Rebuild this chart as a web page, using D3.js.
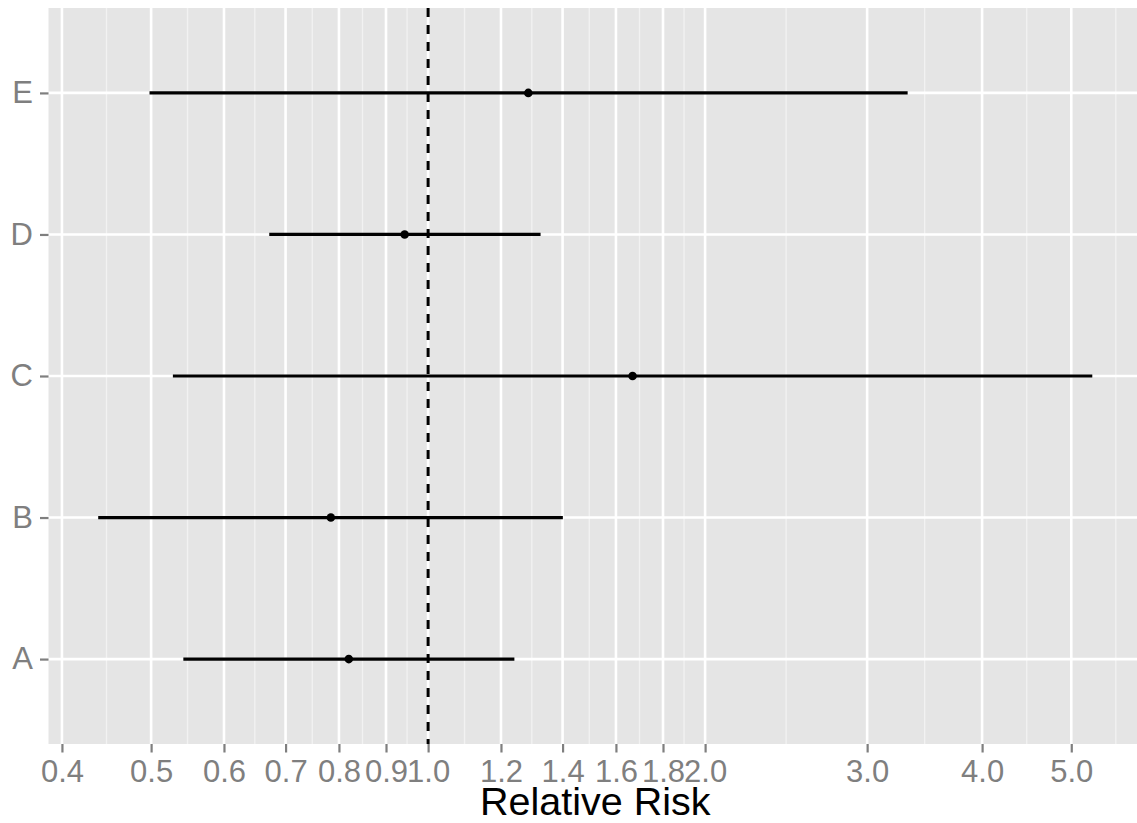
<!DOCTYPE html>
<html>
<head>
<meta charset="utf-8">
<script src="https://cdn.jsdelivr.net/npm/d3@7"></script>
<style>
  body { margin: 0; background: #fff; }
  svg { display: block; font-family: "Liberation Sans", Arial, sans-serif; }
</style>
</head>
<body>
<svg id="chart" width="1137" height="823"></svg>
<script>
// Forest plot data (relative risk with 95% CI)
const groups = ["A", "B", "C", "D", "E"];
const rr     = [0.820, 0.784, 1.668, 0.943, 1.285];
const lower  = [0.542, 0.438, 0.528, 0.672, 0.498];
const upper  = [1.241, 1.401, 5.270, 1.325, 3.320];
const xTicks = [0.4, 0.5, 0.6, 0.7, 0.8, 0.9, 1.0, 1.2, 1.4, 1.6, 1.8, 2.0, 3.0, 4.0, 5.0];

const rows = groups.map((g, i) => ({ group: g, rr: rr[i], lo: lower[i], hi: upper[i] }));

const svg = d3.select("#chart");
const panel = { left: 48.5, right: 1142, top: 8, bottom: 744 };

// log x scale with ggplot-like 5% expansion in log space
const lmin = Math.log10(d3.min(lower)), lmax = Math.log10(d3.max(upper));
const pad = (lmax - lmin) * 0.05;
const x = d3.scaleLog()
  .domain([Math.pow(10, lmin - pad), Math.pow(10, lmax + pad)])
  .range([panel.left, panel.right]);

const y = d3.scalePoint()
  .domain(groups.slice().reverse())
  .range([panel.top, panel.bottom])
  .padding(0.6);

// panel background
svg.append("rect")
  .attr("x", panel.left).attr("y", panel.top)
  .attr("width", panel.right - panel.left)
  .attr("height", panel.bottom - panel.top)
  .attr("fill", "#E5E5E5");

// minor breaks: midpoints (in log space) between majors, extended one step each side
const lt = xTicks.map(Math.log10);
const step = lt[1] - lt[0];
const ext = [lt[0] - step, ...lt, lt[lt.length - 1] + step];
const minor = [];
for (let i = 0; i < ext.length - 1; i++) minor.push(Math.pow(10, (ext[i] + ext[i + 1]) / 2));
const [d0, d1] = x.domain();

const grid = svg.append("g");
grid.selectAll(".minor")
  .data(minor.filter(v => v > d0 && v < d1))
  .enter().append("line")
  .attr("x1", d => x(d)).attr("x2", d => x(d))
  .attr("y1", panel.top).attr("y2", panel.bottom)
  .attr("stroke", "#f2f2f2").attr("stroke-width", 1.3);

grid.selectAll(".major")
  .data(xTicks)
  .enter().append("line")
  .attr("x1", d => x(d)).attr("x2", d => x(d))
  .attr("y1", panel.top).attr("y2", panel.bottom)
  .attr("stroke", "#fff").attr("stroke-width", 2.6);

grid.selectAll(".hmajor")
  .data(groups)
  .enter().append("line")
  .attr("x1", panel.left).attr("x2", panel.right)
  .attr("y1", d => y(d)).attr("y2", d => y(d))
  .attr("stroke", "#fff").attr("stroke-width", 2.6);

// reference line at RR = 1
svg.append("line")
  .attr("x1", x(1)).attr("x2", x(1))
  .attr("y1", panel.top).attr("y2", panel.bottom)
  .attr("stroke", "#000").attr("stroke-width", 3)
  .attr("stroke-dasharray", "9,8");

// confidence intervals
svg.selectAll(".ci")
  .data(rows)
  .enter().append("line")
  .attr("x1", d => x(d.lo)).attr("x2", d => x(d.hi))
  .attr("y1", d => y(d.group)).attr("y2", d => y(d.group))
  .attr("stroke", "#000").attr("stroke-width", 3.2);

// point estimates
svg.selectAll(".pt")
  .data(rows)
  .enter().append("circle")
  .attr("cx", d => x(d.rr)).attr("cy", d => y(d.group))
  .attr("r", 4.3)
  .attr("fill", "#000");

// x axis
const xAxis = svg.append("g")
  .attr("transform", `translate(0,${panel.bottom})`)
  .call(d3.axisBottom(x).tickValues(xTicks).tickFormat(d3.format(".1f")).tickSize(8.5).tickPadding(10));
xAxis.select(".domain").remove();
xAxis.selectAll(".tick line").attr("stroke", "#7f7f7f").attr("stroke-width", 2.2);
xAxis.selectAll(".tick text")
  .attr("fill", "#7f7f7f")
  .attr("font-size", "31px")
  .attr("dy", null)
  .attr("y", 38);

// y axis
const yAxis = svg.append("g")
  .attr("transform", `translate(${panel.left},0)`)
  .call(d3.axisLeft(y).tickSize(8.5).tickPadding(7));
yAxis.select(".domain").remove();
yAxis.selectAll(".tick line").attr("stroke", "#7f7f7f").attr("stroke-width", 2.2);
yAxis.selectAll(".tick text")
  .attr("fill", "#7f7f7f")
  .attr("font-size", "31px");

// axis title
svg.append("text")
  .attr("x", (panel.left + panel.right) / 2)
  .attr("y", 815)
  .attr("text-anchor", "middle")
  .attr("font-size", "39.5px")
  .attr("fill", "#000")
  .text("Relative Risk");
</script>
</body>
</html>
